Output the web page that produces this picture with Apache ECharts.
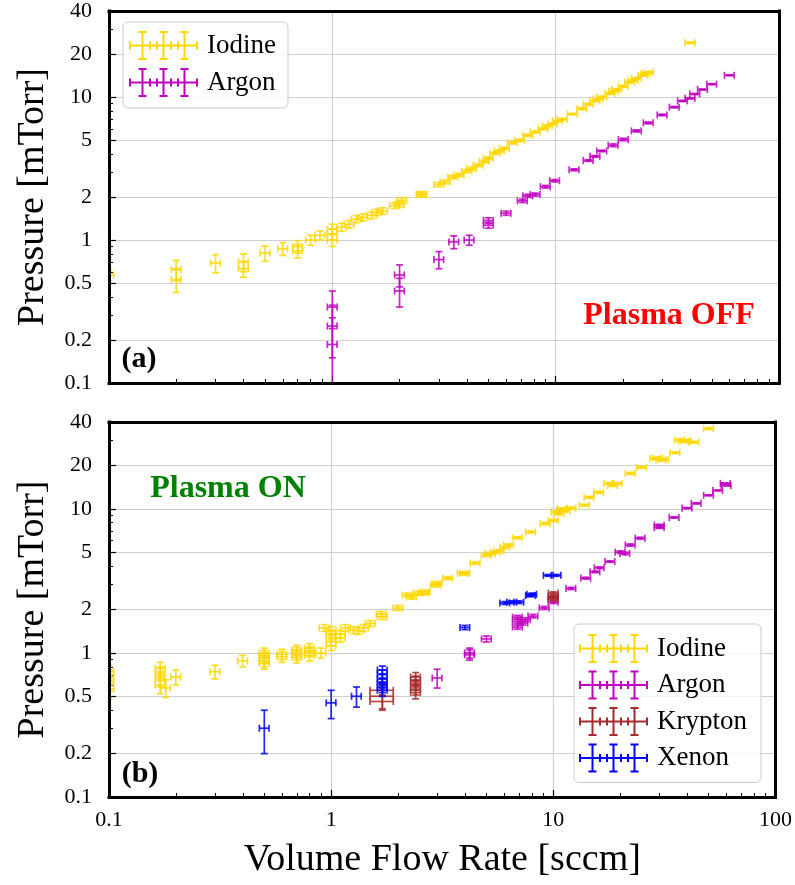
<!DOCTYPE html>
<html><head><meta charset="utf-8">
<script src="https://cdn.jsdelivr.net/npm/echarts@6/dist/echarts.min.js"></script>
<style>html,body{margin:0;padding:0;background:#fff}#c{width:795px;height:885px}</style>
</head><body><div id="c"></div><script>
// ---------- axis tick values ----------
const X_MAJOR = [0.1, 1, 10, 100];
const X_MINOR = [0.2,0.3,0.4,0.5,0.6,0.7,0.8,0.9,2,3,4,5,6,7,8,9,20,30,40,50,60,70,80,90];
const Y_MAJOR = [0.1, 0.2, 0.5, 1, 2, 5, 10, 20, 40];
const Y_MINOR = [0.3,0.4,0.6,0.7,0.8,0.9,3,4,6,7,8,9,30];
const X_ERR_FRAC = 0.05; // relative flow uncertainty

// ---------- data: [flow sccm, pressure mTorr, pressure error, optional rel. flow error] ----------
const iodineOff = [
  [0.1,0.57,0.05],[0.2,0.62,0.1],[0.2,0.53,0.1],[0.3,0.69,0.1],[0.4,0.7,0.1],[0.4,0.63,0.08],
  [0.5,0.81,0.1],[0.6,0.87,0.09],[0.7,0.9,0.09],[0.7,0.84,0.09],[0.8,1.0,0.08],[0.88,1.08,0.08],
  [1.0,1.0,0.1],[1.0,1.1,0.1],[1.0,1.19,0.1],[1.1,1.23,0.08],[1.19,1.29,0.08],[1.28,1.4,0.08],
  [1.37,1.44,0.08],[1.5,1.49,0.08],[1.58,1.56,0.08],[1.68,1.6,0.08],[1.9,1.74,0.08],[2.0,1.77,0.08],
  [2.05,1.9,0.08],[2.5,2.08,0.08],[2.52,2.1,0.08],[3.0,2.44,0.08],[3.2,2.55,0.08],[3.47,2.76,0.08],
  [3.7,2.85,0.08],[4.0,3.03,0.08],[4.2,3.15,0.08],[4.5,3.34,0.08],[4.8,3.55,0.08],[5.0,3.74,0.08],
  [5.35,4.05,0.08],[5.6,4.2,0.08],[5.9,4.38,0.08],[6.4,4.8,0.1],[6.9,4.98,0.1],[7.5,5.4,0.1],
  [8.1,5.7,0.1],[8.8,6.0,0.1],[9.2,6.3,0.1],[9.7,6.5,0.1],[10.2,6.8,0.1],[10.7,7.0,0.1],
  [11.9,7.6,0.1],[13.1,8.3,0.15],[14.0,8.9,0.15],[15.0,9.4,0.15],[15.5,9.7,0.15],[16.1,10.0,0.15],
  [17.5,10.6,0.15],[18.2,11.0,0.15],[18.8,11.3,0.15],[20.1,11.9,0.2],[21.5,12.7,0.2],[22.2,13.1,0.2],
  [23.0,13.5,0.2],[24.6,14.2,0.2],[25.3,14.6,0.2],[26.0,14.9,0.2],[40.0,24.0,0.3]
];
const argonOff = [
  [1.0,0.34,0.1],[1.0,0.25,0.1],[1.0,0.186,0.1],[2.0,0.57,0.1],[2.0,0.44,0.1],[3.0,0.73,0.1],
  [3.5,0.97,0.1],[4.1,1.0,0.08],[5.0,1.37,0.06],[5.0,1.27,0.06],[6.0,1.54,0.05],[7.1,1.88,0.05],
  [7.5,2.04,0.05],[8.1,2.08,0.05],[9.0,2.36,0.05],[9.9,2.6,0.05],[12.1,3.1,0.05],[14.0,3.6,0.05],
  [15.0,3.85,0.05],[16.1,4.2,0.05],[18.1,4.6,0.1],[20.1,5.05,0.1],[23.0,5.8,0.1],[26.0,6.6,0.1],
  [30.0,7.5,0.1],[34.0,8.5,0.1],[37.0,9.4,0.1],[40.0,9.8,0.1],[42.0,10.5,0.1],[45.5,11.3,0.1],
  [50.0,12.3,0.1],[60.0,14.2,0.1]
];
const iodineOn = [
  [0.1,0.74,0.08],[0.1,0.68,0.08],[0.1,0.62,0.08],[0.1,0.56,0.08],
  [0.17,0.78,0.08],[0.17,0.72,0.08],[0.17,0.66,0.08],[0.17,0.6,0.08],[0.18,0.57,0.08],
  [0.2,0.68,0.08],[0.3,0.74,0.08],[0.4,0.88,0.08],
  [0.5,1.0,0.08],[0.5,0.96,0.08],[0.5,0.92,0.08],[0.5,0.88,0.08],[0.5,0.85,0.08],
  [0.6,0.98,0.08],[0.6,0.94,0.08],
  [0.7,1.05,0.08],[0.7,1.01,0.08],[0.7,0.97,0.08],[0.7,0.93,0.08],
  [0.8,1.08,0.08],[0.8,1.02,0.08],[0.8,0.96,0.08],[0.9,1.0,0.08],
  [0.93,1.49,0.08],[1.0,1.44,0.08],[1.0,1.33,0.08],[1.0,1.2,0.08],[1.0,1.12,0.08],
  [1.1,1.27,0.08],[1.1,1.35,0.08],[1.16,1.49,0.08],[1.26,1.44,0.08],[1.33,1.42,0.08],
  [1.4,1.49,0.08],[1.5,1.6,0.08],[1.68,1.86,0.08],[1.7,1.78,0.08],[2.0,2.05,0.08],
  [2.2,2.52,0.08],[2.3,2.44,0.08],[2.47,2.6,0.08],[2.6,2.6,0.08],[2.65,2.65,0.08],
  [2.95,2.95,0.08],[3.0,3.05,0.08],[3.35,3.3,0.08],[3.9,3.57,0.08],[4.0,3.57,0.08],
  [4.45,4.2,0.08],[5.0,4.76,0.1],[5.2,4.9,0.1],[5.5,5.0,0.1],[5.7,5.1,0.1],[6.05,5.4,0.1],
  [6.3,5.6,0.1],[6.9,6.3,0.1],[7.9,6.9,0.1],[9.2,7.9,0.15],[10.0,8.3,0.15],[10.3,9.5,0.15],
  [10.6,9.2,0.15],[10.9,9.8,0.15],[11.0,10.0,0.15],[11.3,9.7,0.15],[12.0,10.1,0.15],
  [13.8,10.6,0.15],[14.5,12.0,0.2],[16.0,13.0,0.2],[17.8,15.0,0.2],[18.5,14.5,0.2],
  [19.4,15.0,0.2],[22.2,17.6,0.3],[25.0,19.4,0.3],[28.7,22.3,0.3],[29.5,22.5,0.3],
  [30.5,21.8,0.3],[31.4,22.0,0.3],[35.3,24.5,0.3],[37.0,30.0,0.4],[38.5,29.4,0.4],
  [39.6,29.7,0.4],[43.0,29.0,0.4],[50.0,36.0,0.5]
];
const argonOn = [
  [3.0,0.67,0.1],[4.2,1.0,0.08],[4.2,0.97,0.08],[5.0,1.25,0.06],[6.9,1.77,0.05],[6.9,1.65,0.05],
  [6.9,1.51,0.05],[7.3,1.61,0.05],[7.5,1.7,0.05],[8.1,1.8,0.05],[9.1,2.05,0.05],[10.0,2.25,0.05],
  [10.0,2.44,0.05],[12.0,2.8,0.05],[14.0,3.3,0.05],[15.4,3.65,0.05],[16.1,3.9,0.05],[18.0,4.3,0.05],
  [20.0,5.0,0.1],[21.0,4.9,0.1],[22.2,5.6,0.1],[24.6,6.25,0.1],[30.0,7.4,0.1],[30.0,7.7,0.1],
  [35.0,8.7,0.1],[40.0,10.1,0.1],[44.0,10.9,0.1],[50.0,12.4,0.1],[55.0,13.4,0.1],[59.5,15.0,0.1],
  [60.0,14.5,0.1]
];
const kryptonOn = [
  [1.7,0.55,0.05,0.12],[1.7,0.5,0.1,0.12],[1.7,0.46,0.05,0.12],
  [2.4,0.68,0.05],[2.4,0.64,0.05],[2.4,0.6,0.05],[2.4,0.56,0.05],[2.4,0.53,0.05],
  [10.0,2.6,0.05],[10.0,2.45,0.05],[10.0,2.35,0.05]
];
const xenonOn = [
  [0.5,0.3,0.1],[1.0,0.45,0.1],[1.3,0.5,0.08],
  [1.7,0.76,0.05],[1.7,0.71,0.05],[1.7,0.66,0.05],[1.7,0.62,0.05],[1.7,0.58,0.05],[1.7,0.55,0.05],
  [4.0,1.5,0.05],[6.05,2.22,0.05],[6.5,2.25,0.05],[7.0,2.25,0.05],[7.9,2.5,0.05],[8.0,2.55,0.05],
  [9.5,3.45,0.05],[10.3,3.45,0.05]
];

const C_I = '#FFD700', C_AR = '#BF00BF', C_KR = '#A52A2A', C_XE = '#0000FF';
const FONT = '"Liberation Serif", "DejaVu Serif", serif';

function prep(arr) { return arr.map(d => d.length > 3 ? d : [d[0], d[1], d[2], X_ERR_FRAC]); }

function errItem(params, api) {
  const x = api.value(0), y = api.value(1), ye = api.value(2), xf = api.value(3);
  const c = api.coord([x, y]);
  const xl = api.coord([x * (1 - xf), y])[0];
  const xh = api.coord([x * (1 + xf), y])[0];
  const yh = api.coord([x, y + ye])[1];
  const yl = api.coord([x, Math.max(y - ye, 0.001)])[1];
  const cap = 3.5;
  const col = api.visual('color');
  const L = (x1, y1, x2, y2) => ({type: 'line', shape: {x1, y1, x2, y2},
    style: {stroke: col, lineWidth: 1.7, opacity: 0.85}});
  return {type: 'group', children: [
    L(xl, c[1], xh, c[1]), L(xl, c[1] - cap, xl, c[1] + cap), L(xh, c[1] - cap, xh, c[1] + cap),
    L(c[0], yl, c[0], yh), L(c[0] - cap, yl, c[0] + cap, yl), L(c[0] - cap, yh, c[0] + cap, yh)
  ]};
}

function rect(x, y, w, h) { return 'M' + x + ',' + y + 'h' + w + 'v' + h + 'h' + (-w) + 'z'; }
const ICON = 'path://' + [
  rect(0, 13.5, 69, 2),
  rect(0, 10.5, 2, 8), rect(20, 10.5, 2, 8), rect(27, 10.5, 2, 8),
  rect(41, 10.5, 2, 8), rect(48, 10.5, 2, 8), rect(67, 10.5, 2, 8),
  rect(12.5, 0, 2, 29), rect(33.5, 0, 2, 29), rect(54.5, 0, 2, 29),
  rect(9.5, 0, 8, 2), rect(9.5, 27, 8, 2),
  rect(30.5, 0, 8, 2), rect(30.5, 27, 8, 2),
  rect(51.5, 0, 8, 2), rect(51.5, 27, 8, 2)
].join('');

const fmt = v => String(+(+v).toPrecision(3));
const gridLine = {show: true, lineStyle: {color: '#cfcfcf', width: 1.2}};
const frameLine = {show: true, lineStyle: {color: '#000', width: 3, cap: 'square'}};
const X_RANGE = {type: 'log', logBase: 10, min: 0.1, max: 100};
const Y_RANGE = {type: 'log', logBase: 10, min: 0.1, max: 40};

// per grid: [major (ticks, labels, grid lines), minor ticks, frame bottom/left, frame top/right]
function xAxes(gi, labels) {
  const major = Object.assign({}, X_RANGE, {
    gridIndex: gi, position: 'bottom',
    axisLine: {show: false},
    axisTick: {show: true, inside: true, length: 7, customValues: X_MAJOR, lineStyle: {color: '#000', width: 1.2}},
    axisLabel: {show: labels, customValues: X_MAJOR, formatter: fmt, margin: 12,
      fontFamily: FONT, fontSize: 22, color: '#000'},
    splitLine: gridLine, minorTick: {show: false}
  });
  if (labels) {
    major.name = 'Volume Flow Rate [sccm]';
    major.nameLocation = 'middle';
    major.nameGap = 44;
    major.nameTextStyle = {fontFamily: FONT, fontSize: 38, color: '#000'};
  }
  const minor = Object.assign({}, X_RANGE, {
    gridIndex: gi, position: 'bottom',
    axisLine: {show: false},
    axisTick: {show: true, inside: true, length: 4, customValues: X_MINOR, lineStyle: {color: '#000', width: 1}},
    axisLabel: {show: false}, splitLine: {show: false}
  });
  const frame = pos => Object.assign({}, X_RANGE, {
    gridIndex: gi, position: pos, z: 5,
    axisLine: frameLine, axisTick: {show: false}, axisLabel: {show: false}, splitLine: {show: false}
  });
  return [major, minor, frame('bottom'), frame('top')];
}
function yAxes(gi) {
  const major = Object.assign({}, Y_RANGE, {
    gridIndex: gi, position: 'left',
    axisLine: {show: false},
    axisTick: {show: true, inside: true, length: 7, customValues: Y_MAJOR, lineStyle: {color: '#000', width: 1.2}},
    axisLabel: {show: true, customValues: Y_MAJOR, formatter: fmt, margin: 17,
      fontFamily: FONT, fontSize: 22, color: '#000'},
    splitLine: gridLine,
    name: 'Pressure [mTorr]', nameLocation: 'middle', nameGap: 57,
    nameTextStyle: {fontFamily: FONT, fontSize: 38, color: '#000'}
  });
  const minor = Object.assign({}, Y_RANGE, {
    gridIndex: gi, position: 'left',
    axisLine: {show: false},
    axisTick: {show: true, inside: true, length: 4, customValues: Y_MINOR, lineStyle: {color: '#000', width: 1}},
    axisLabel: {show: false}, splitLine: {show: false}
  });
  const frame = pos => Object.assign({}, Y_RANGE, {
    gridIndex: gi, position: pos, z: 5,
    axisLine: frameLine, axisTick: {show: false}, axisLabel: {show: false}, splitLine: {show: false}
  });
  return [major, minor, frame('left'), frame('right')];
}

function ser(name, color, data, gi) {
  return {type: 'custom', name, xAxisIndex: gi * 4, yAxisIndex: gi * 4, renderItem: errItem,
    itemStyle: {color}, data: prep(data), clip: true, z: 3, silent: true};
}

const legendBase = {
  orient: 'vertical', itemWidth: 69, itemHeight: 29, selectedMode: false, z: 20,
  backgroundColor: 'rgba(255,255,255,0.8)', borderColor: '#cccccc', borderWidth: 1, borderRadius: 5,
  textStyle: {fontFamily: FONT, fontSize: 27, color: '#000', padding: [0, 0, 0, 4]},
  itemStyle: {borderWidth: 0}
};
const li = (name, color) => ({name, icon: ICON, itemStyle: {color}});

const option = {
  animation: false,
  backgroundColor: '#fff',
  grid: [
    {left: 109, top: 7, width: 670, height: 376},
    {left: 109, top: 422, width: 670, height: 375}
  ],
  xAxis: [...xAxes(0, false), ...xAxes(1, true)],
  yAxis: [...yAxes(0), ...yAxes(1)],
  legend: [
    Object.assign({}, legendBase, {left: 123, top: 22, itemGap: 8, padding: [9, 12, 11, 6],
      data: [li('Iodine', C_I), li('Argon', C_AR)]}),
    Object.assign({}, legendBase, {left: 574, top: 624, itemGap: 7.5, padding: [10, 14, 10, 5],
      data: [li('Iodine', C_I), li('Argon', C_AR), li('Krypton', C_KR), li('Xenon', C_XE)]})
  ],
  graphic: [
    {type: 'text', z: 100, style: {text: 'Plasma OFF', x: 669, y: 316, align: 'center', verticalAlign: 'middle',
      font: 'bold 32px ' + FONT, fill: '#FF0000'}},
    {type: 'text', z: 100, style: {text: 'Plasma ON', x: 228, y: 489, align: 'center', verticalAlign: 'middle',
      font: 'bold 32px ' + FONT, fill: '#008000'}},
    {type: 'text', z: 100, style: {text: '(a)', x: 139, y: 359, align: 'center', verticalAlign: 'middle',
      font: 'bold 30px ' + FONT, fill: '#000'}},
    {type: 'text', z: 100, style: {text: '(b)', x: 140, y: 774, align: 'center', verticalAlign: 'middle',
      font: 'bold 30px ' + FONT, fill: '#000'}}
  ],
  series: [
    ser('Iodine', C_I, iodineOff, 0),
    ser('Argon', C_AR, argonOff, 0),
    ser('Iodine', C_I, iodineOn, 1),
    ser('Argon', C_AR, argonOn, 1),
    ser('Krypton', C_KR, kryptonOn, 1),
    ser('Xenon', C_XE, xenonOn, 1)
  ]
};
const chart = echarts.init(document.getElementById('c'), null, {renderer: 'canvas'});
chart.setOption(option);
</script></body></html>
